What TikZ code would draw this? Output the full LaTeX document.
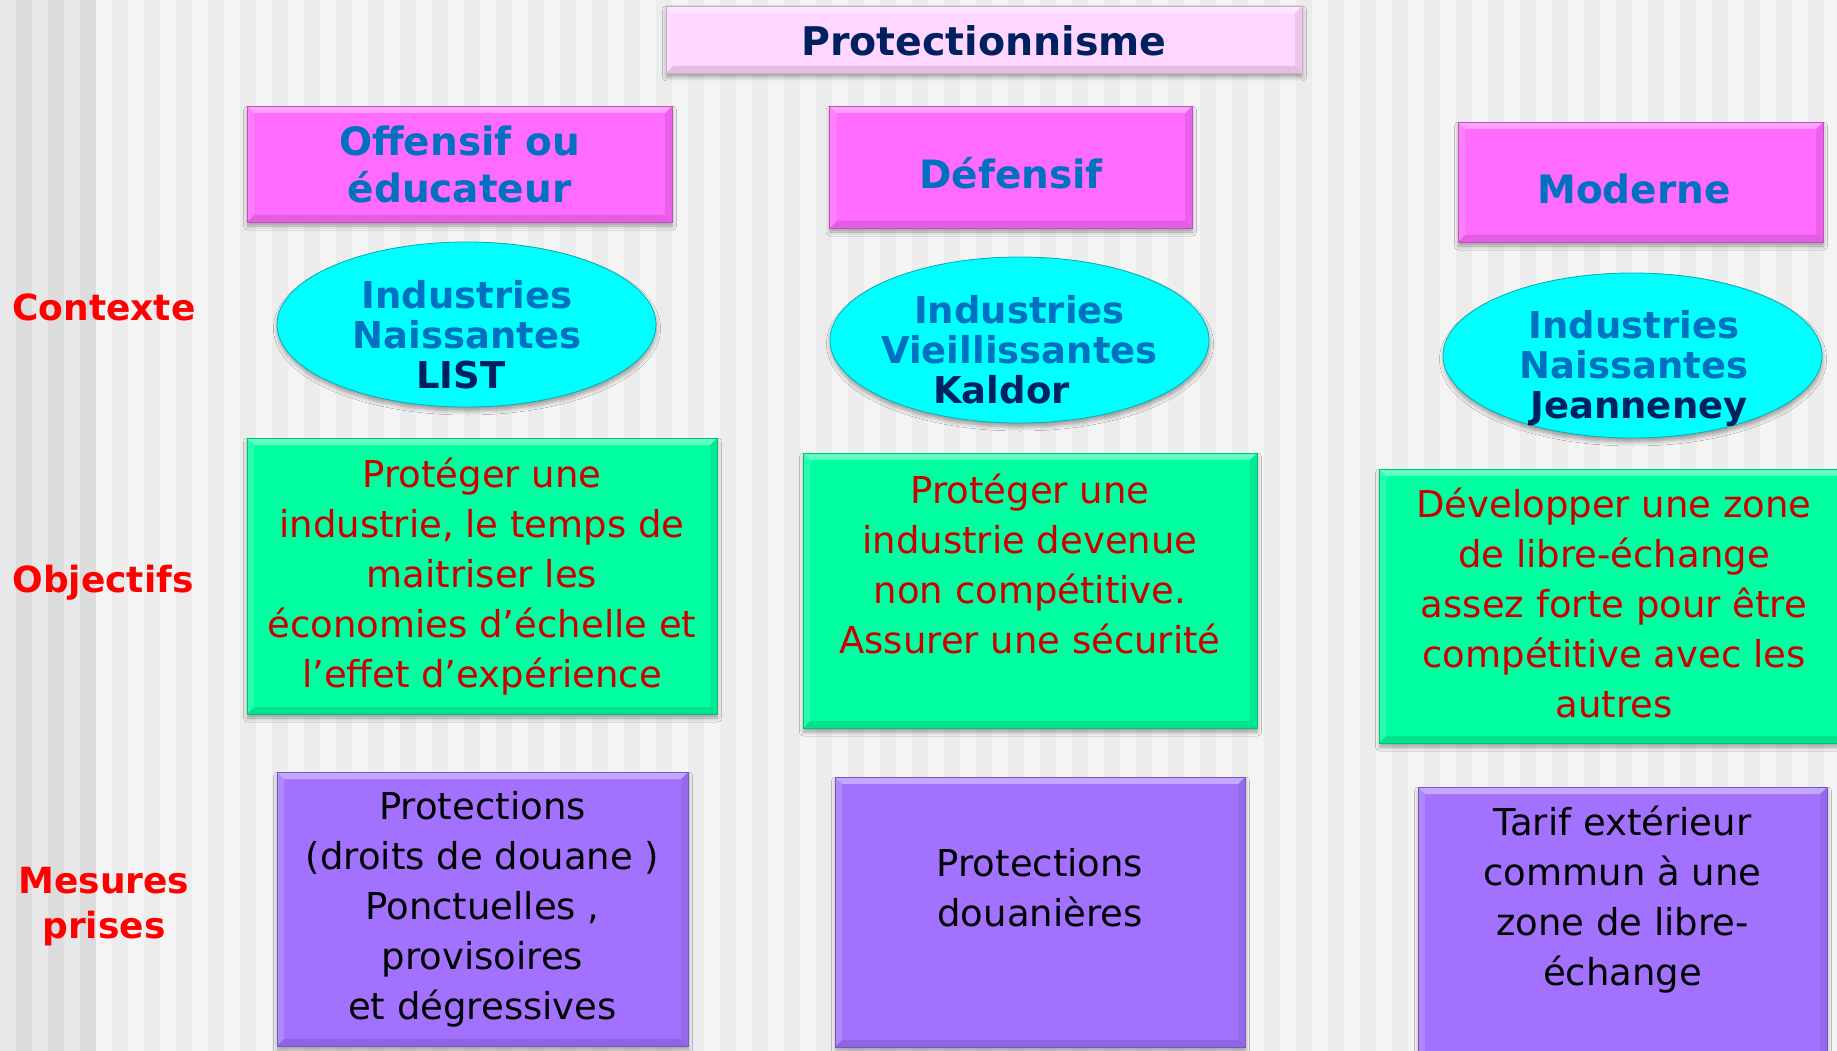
\documentclass[tikz,border=0pt]{standalone}
\usepackage{fontspec}
\setmainfont{DejaVu Sans}
\usetikzlibrary{shapes.geometric,shadows.blur}
\definecolor{navy}{HTML}{002060}
\definecolor{hblue}{HTML}{0070C0}
\definecolor{titlefill}{HTML}{FFD6FF}
\definecolor{magfill}{HTML}{FF6AFF}
\definecolor{cyanfill}{HTML}{00FFFF}
\definecolor{greenfill}{HTML}{00FFA0}
\definecolor{purplefill}{HTML}{A272FF}
\definecolor{redtxt}{HTML}{CC0000}
\definecolor{lblred}{HTML}{FF0000}
\definecolor{bgA}{HTML}{F4F4F4}
\definecolor{bgB}{HTML}{ECECEC}
\definecolor{bgL}{HTML}{E8E8E8}
\definecolor{bgD}{HTML}{DCDCDC}
\tikzset{
  bevel/.style={path picture={
    \path (path picture bounding box.north west) coordinate (bnw)
          (path picture bounding box.north east) coordinate (bne)
          (path picture bounding box.south west) coordinate (bsw)
          (path picture bounding box.south east) coordinate (bse);
    \fill[white,opacity=.38] (bnw) -- (bne) -- ([shift={(-7pt,-7pt)}]bne) -- ([shift={(7pt,-7pt)}]bnw) -- cycle;
    \fill[white,opacity=.15] (bnw) -- (bsw) -- ([shift={(7pt,7pt)}]bsw) -- ([shift={(7pt,-7pt)}]bnw) -- cycle;
    \fill[black,opacity=.11] (bsw) -- (bse) -- ([shift={(-7pt,7pt)}]bse) -- ([shift={(7pt,7pt)}]bsw) -- cycle;
    \fill[black,opacity=.08] (bne) -- (bse) -- ([shift={(-7pt,7pt)}]bse) -- ([shift={(-7pt,-7pt)}]bne) -- cycle;
  }},
  boxbase/.style={rectangle, inner sep=0pt, outer sep=0pt, anchor=north west, line width=0.8pt,
    blur shadow={shadow xshift=0.5pt, shadow yshift=-4pt, shadow blur radius=4pt, shadow opacity=35}, bevel},
  titlebox/.style={boxbase, fill=titlefill, draw=titlefill!80!black},
  headbox/.style={boxbase, fill=magfill, draw=magfill!75!black},
  greenbox/.style={boxbase, fill=greenfill, draw=greenfill!75!black},
  purplebox/.style={boxbase, fill=purplefill, draw=purplefill!75!black},
  ell/.style={ellipse, inner sep=0pt, outer sep=0pt, fill=cyanfill, draw=cyanfill!70!black, line width=0.8pt,
    blur shadow={shadow xshift=0.5pt, shadow yshift=-4pt, shadow blur radius=4pt, shadow opacity=35}},
  txt/.style={inner sep=0pt, outer sep=0pt, align=center},
  bodytxt/.style={txt, font=\fontsize{37}{50}\selectfont},
  headtxt/.style={txt, text=hblue, font=\bfseries\fontsize{39}{47}\selectfont},
  elltxt/.style={txt, text=hblue, font=\bfseries\fontsize{37}{40}\selectfont},
  lbl/.style={txt, text=lblred, font=\bfseries\fontsize{36}{45}\selectfont},
}
\begin{document}
\begin{tikzpicture}[x=1pt,y=-1pt]
\useasboundingbox (0,0) rectangle (1837,1051);
\clip (0,0) rectangle (1837,1051);
% background stripes
\fill[bgA] (0,0) rectangle (1837,1051);
\fill[bgL] (0,0) rectangle (96,1051);
\foreach \x in {16,48,80} \fill[bgD] (\x,0) rectangle ++(16,1051);
\foreach \x in {112,144,...,1840} \fill[bgB] (\x,0) rectangle ++(16,1051);

% title
\node[titlebox, minimum width=636pt, minimum height=67pt] (title) at (666,6) {};
\node[txt, anchor=base, text=navy, font=\bfseries\fontsize{39.5}{47}\selectfont] (titlet) at (984,56) {Protectionnisme};

% headings
\node[headbox, minimum width=425pt, minimum height=116pt] (off) at (247,106) {};
\node[headtxt, anchor=north] (offt) at (459.5,124) {\rule{0pt}{32pt}Offensif ou\\éducateur};
\node[headbox, minimum width=362.5pt, minimum height=122pt] (def) at (829.5,106) {};
\node[headtxt, anchor=base] (deft) at (1011,189) {Défensif};
\node[headbox, minimum width=365pt, minimum height=120pt] (mod) at (1458,122) {};
\node[headtxt, anchor=base] (modt) at (1634,204) {Moderne};

% ellipses
\node[ell, minimum width=379pt, minimum height=165pt] (e1) at (466.5,324.5) {};
\node[elltxt, anchor=north] (e1t) at (467,278) {\rule{0pt}{30pt}Industries\\Naissantes\\\textcolor{navy}{LIST}\hspace*{12pt}};
\node[ell, minimum width=379pt, minimum height=166pt] (e2) at (1019.5,340) {};
\node[elltxt, anchor=north] (e2t) at (1019.5,293) {\rule{0pt}{30pt}Industries\\Vieillissantes\\\textcolor{navy}{Kaldor}\hspace*{36pt}};
\node[ell, minimum width=379pt, minimum height=165pt] (e3) at (1632.5,355.5) {};
\node[elltxt, anchor=north] (e3t) at (1634,308) {\rule{0pt}{30pt}Industries\\Naissantes\\\hspace*{10pt}\textcolor{navy}{Jeanneney}};

% objectives
\node[greenbox, minimum width=470pt, minimum height=276pt] (g1) at (247,438) {};
\node[bodytxt, text=redtxt, anchor=north] (g1t) at (482,455) {\rule{0pt}{32pt}Protéger une\\industrie, le temps de\\maitriser les\\économies d’échelle et\\l’effet d’expérience};
\node[greenbox, minimum width=454pt, minimum height=275pt] (g2) at (803,453) {};
\node[bodytxt, text=redtxt, anchor=north] (g2t) at (1030,471) {\rule{0pt}{32pt}Protéger une\\industrie devenue\\non compétitive.\\Assurer une sécurité};
\node[greenbox, minimum width=480pt, minimum height=274pt] (g3) at (1379,469) {};
\node[bodytxt, text=redtxt, anchor=north] (g3t) at (1614,485) {\rule{0pt}{32pt}Développer une zone\\de libre-échange\\assez forte pour être\\compétitive avec les\\autres};

% measures
\node[purplebox, minimum width=411pt, minimum height=274pt] (p1) at (277,772) {};
\node[bodytxt, text=black, anchor=north] (p1t) at (482.5,787) {\rule{0pt}{32pt}Protections\\(droits de douane )\\Ponctuelles ,\\provisoires\\et dégressives};
\node[purplebox, minimum width=410pt, minimum height=270pt] (p2) at (835,777) {};
\node[bodytxt, text=black, anchor=north] (p2t) at (1040,844) {\rule{0pt}{32pt}Protections\\douanières};
\node[purplebox, minimum width=409pt, minimum height=290pt] (p3) at (1418,787) {};
\node[bodytxt, text=black, anchor=north] (p3t) at (1622.5,803) {\rule{0pt}{32pt}Tarif extérieur\\commun à une\\zone de libre-\\échange};

% row labels
\node[lbl, anchor=base] (ctx) at (104,320) {Contexte};
\node[lbl, anchor=base] (obj) at (103,592) {Objectifs};
\node[lbl, anchor=north] (mes) at (104,863) {\rule{0pt}{30pt}Mesures\\prises};
\end{tikzpicture}
\end{document}
